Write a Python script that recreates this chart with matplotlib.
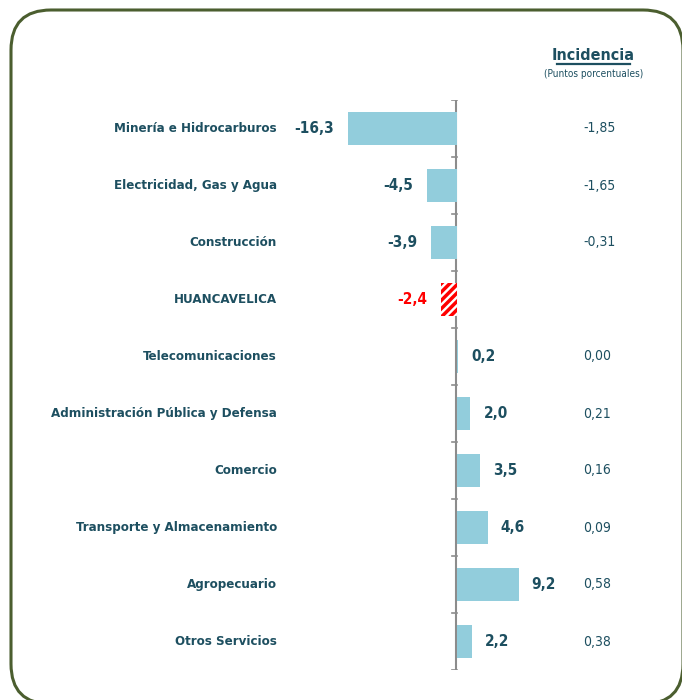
import matplotlib.pyplot as plt
from matplotlib.patches import FancyBboxPatch

plt.rcParams['font.family'] = ['DejaVu Sans']
plt.rcParams['font.stretch'] = 'condensed'
plt.rcParams['hatch.linewidth'] = 2.5

categories = ['Minería e Hidrocarburos', 'Electricidad, Gas y Agua', 'Construcción',
              'HUANCAVELICA', 'Telecomunicaciones', 'Administración Pública y Defensa',
              'Comercio', 'Transporte y Almacenamiento', 'Agropecuario', 'Otros Servicios']
variacion = [-16.3, -4.5, -3.9, -2.4, 0.2, 2.0, 3.5, 4.6, 9.2, 2.2]
incidencia = ['-1,85', '-1,65', '-0,31', '', '0,00', '0,21', '0,16', '0,09', '0,58', '0,38']
total_name = 'HUANCAVELICA'

text_col = '#1d4f60'
bar_col = '#92cddc'
red = '#ff0000'
px = 6.69  # pixels per unit

fig = plt.figure(figsize=(6.82, 7.0), dpi=100)

# frame
bg = fig.add_axes([0, 0, 1, 1])
bg.set_xlim(0, 682)
bg.set_ylim(700, 0)
bg.axis('off')
bg.add_patch(FancyBboxPatch((11, 10), 672, 694,
                            boxstyle='round,pad=0,rounding_size=40',
                            facecolor='white', edgecolor='#4b5e2f', linewidth=2.2))

ax = fig.add_axes([0, 30 / 700, 1, 570 / 700])
ax.set_facecolor('none')
ax.set_xlim(-457 / px, (682 - 457) / px)
ax.set_ylim(len(categories) - 0.5, -0.5)
for s in ['top', 'right', 'bottom', 'left']:
    ax.spines[s].set_visible(False)
ax.set_xticks([])
ax.set_yticks([])

ax.axvline(-0.6 / px, color='#8c8c8c', lw=1.5, zorder=1)
for b in range(len(categories) + 1):
    ax.plot([-5 / px, 0], [b - 0.5, b - 0.5], color='#8c8c8c', lw=1.2, zorder=1)

for i, (cat, v, inc) in enumerate(zip(categories, variacion, incidencia)):
    is_total = cat == total_name
    if is_total:
        ax.barh(i, v, height=0.58, facecolor='white', edgecolor=red, hatch='////',
                linewidth=0, zorder=2)
    else:
        ax.barh(i, v, height=0.58, color=bar_col, zorder=2)
    col = red if is_total else text_col
    ax.text(-180 / px, i, cat, ha='right', va='center', fontsize=9.5,
            fontweight='bold', color=text_col)
    lbl = f'{v:.1f}'.replace('.', ',')
    if v < 0:
        ax.text(v - 14 / px, i, lbl, ha='right', va='center', fontsize=11,
                fontweight='bold', color=col)
    else:
        ax.text(v + 13 / px, i, lbl, ha='left', va='center', fontsize=11,
                fontweight='bold', color=col)
    if inc:
        ax.text(126 / px, i, inc, ha='left', va='center', fontsize=10, color=text_col)

# header
fig.text(593 / 682, 1 - 55 / 700, 'Incidencia', ha='center', va='center',
         fontsize=11.5, fontweight='bold', color=text_col)
bg.plot([557, 630], [64, 64], color=text_col, lw=1.6)
fig.text(594 / 682, 1 - 74 / 700, '(Puntos porcentuales)', ha='center', va='center',
         fontsize=7.2, color=text_col)

fig.savefig('out.png', dpi=100)
